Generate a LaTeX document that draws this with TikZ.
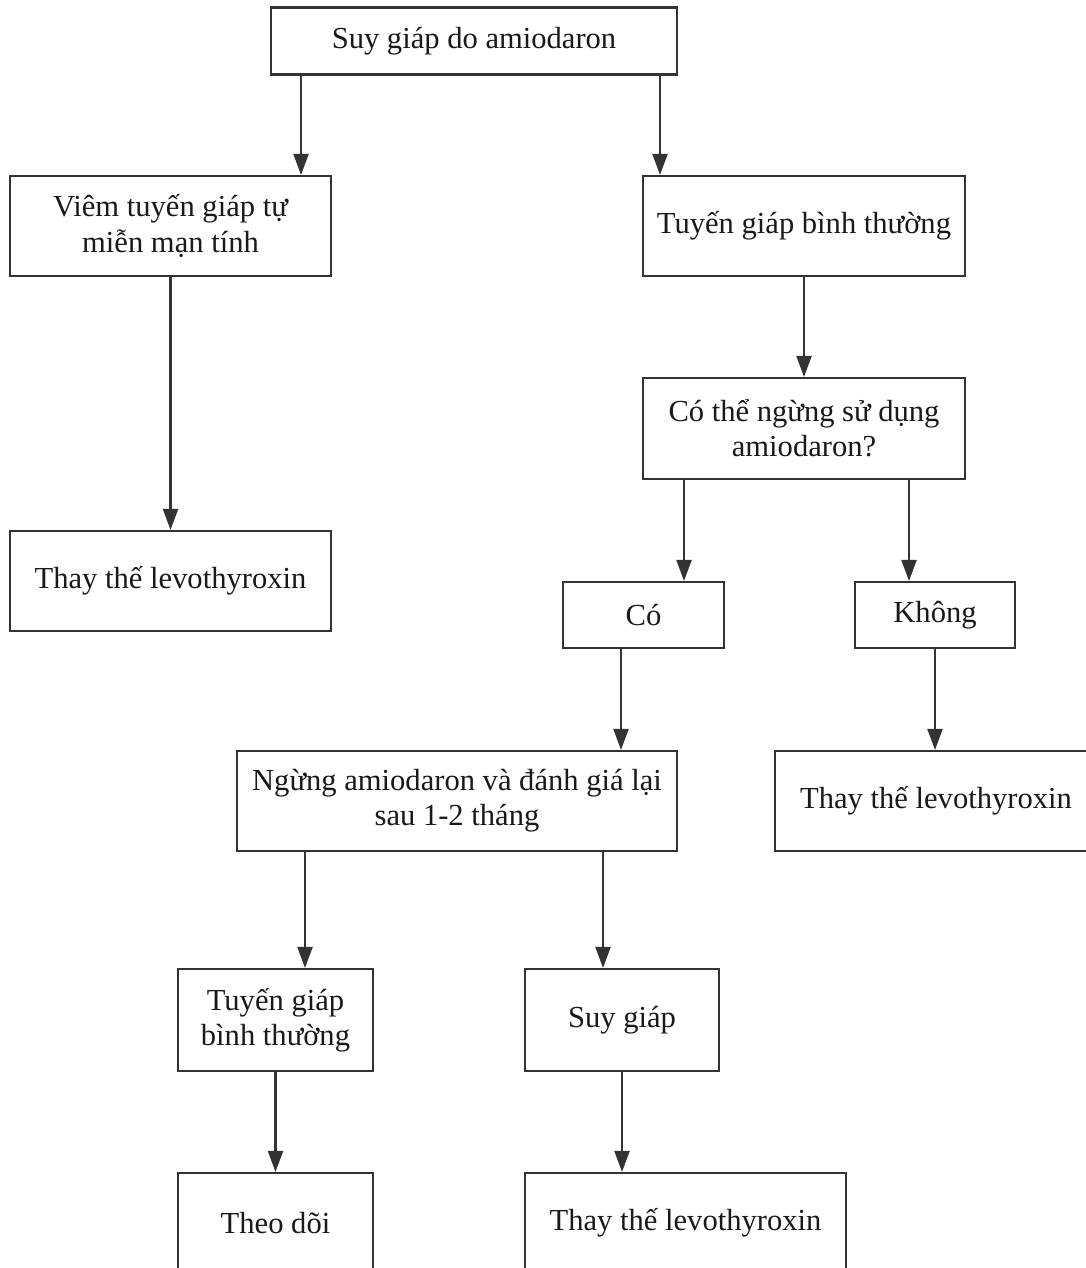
\documentclass[tikz,border=0pt]{standalone}
\usepackage{fontspec}
\setmainfont{Liberation Serif}
\usetikzlibrary{arrows.meta, positioning}

\begin{document}
\begin{tikzpicture}[
        box/.style={rectangle, draw=black!80, line width=0.6pt, fill=white, inner sep=0pt, align=center, text=black!90, font=\fontsize{8.7}{10}\selectfont},
        flowline/.style={-{Triangle[length=2.1mm, width=1.5mm]}, line width=0.6pt, black!80}
    ]
    \useasboundingbox (0,0) rectangle (10.85,-12.68);

    \node[box, minimum width=4.06cm, minimum height=0.67cm] (cause) at (4.74,-0.41) {Suy giáp do amiodaron};
    \node[box, minimum width=3.21cm, minimum height=1.00cm] (autoimm) at (1.705,-2.26) {Viêm tuyến giáp tự\\miễn mạn tính};
    \node[box, minimum width=3.22cm, minimum height=1.00cm] (normal) at (8.04,-2.26) {Tuyến giáp bình thường};
    \node[box, minimum width=3.21cm, minimum height=1.00cm] (levoA) at (1.705,-5.81) {Thay thế levothyroxin};
    \node[box, minimum width=3.22cm, minimum height=1.01cm] (stop) at (8.04,-4.285) {Có thể ngừng sử dụng\\amiodaron?};
    \node[box, minimum width=1.61cm, minimum height=0.66cm] (yes) at (6.435,-6.15) {Có};
    \node[box, minimum width=1.60cm, minimum height=0.66cm] (no) at (9.35,-6.15) {Không};
    \node[box, minimum width=4.40cm, minimum height=1.00cm] (recheck) at (4.57,-8.01) {Ngừng amiodaron và đánh giá lại\\sau 1-2 tháng};
    \node[box, minimum width=3.22cm, minimum height=1.00cm] (levoB) at (9.36,-8.01) {Thay thế levothyroxin};
    \node[box, minimum width=1.95cm, minimum height=1.02cm] (euthy) at (2.755,-10.20) {Tuyến giáp\\bình thường};
    \node[box, minimum width=1.94cm, minimum height=1.02cm] (hypo) at (6.22,-10.20) {Suy giáp};
    \node[box, minimum width=1.95cm, minimum height=1.00cm] (watch) at (2.755,-12.23) {Theo dõi};
    \node[box, minimum width=3.21cm, minimum height=1.00cm] (levoC) at (6.855,-12.23) {Thay thế levothyroxin};

    \draw[flowline] ([xshift=-1.73cm]cause.south) -- ([xshift=-1.73cm]cause.south |- autoimm.north);
    \draw[flowline] ([xshift=1.86cm]cause.south) -- ([xshift=1.86cm]cause.south |- normal.north);
    \draw[flowline] (autoimm) -- (levoA);
    \draw[flowline] (normal) -- (stop);
    \draw[flowline] ([xshift=-1.20cm]stop.south) -- ([xshift=-1.20cm]stop.south |- yes.north);
    \draw[flowline] ([xshift=1.05cm]stop.south) -- ([xshift=1.05cm]stop.south |- no.north);
    \draw[flowline] ([xshift=-0.225cm]yes.south) -- ([xshift=-0.225cm]yes.south |- recheck.north);
    \draw[flowline] (no.south) -- (no.south |- levoB.north);
    \draw[flowline] ([xshift=-1.52cm]recheck.south) -- ([xshift=-1.52cm]recheck.south |- euthy.north);
    \draw[flowline] ([xshift=1.46cm]recheck.south) -- ([xshift=1.46cm]recheck.south |- hypo.north);
    \draw[flowline] (euthy) -- (watch);
    \draw[flowline] (hypo.south) -- (hypo.south |- levoC.north);
\end{tikzpicture}
\end{document}
